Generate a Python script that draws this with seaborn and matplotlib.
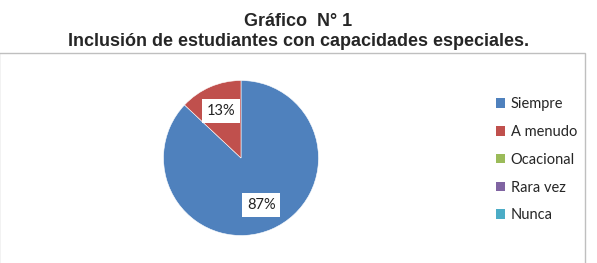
import matplotlib
matplotlib.use("Agg")
import matplotlib.pyplot as plt
import seaborn as sns
from matplotlib.patches import Rectangle, Patch

categories = ["Siempre", "A menudo", "Ocacional", "Rara vez", "Nunca"]
values = [87, 13, 0, 0, 0]
colors = ["#4F81BD", "#C0504D", "#9BBB59", "#8064A2", "#4BACC6"]
title_lines = ["Gráfico  N° 1", "Inclusión de estudiantes con capacidades especiales."]

sns.set_style("white")
palette = sns.color_palette(colors)

W, H = 597, 263
fig = plt.figure(figsize=(W / 100, H / 100), dpi=100)
fig.patch.set_facecolor("white")

# chart frame
fig.add_artist(Rectangle((-1 / W, -0.2), 586 / W, 1 - 52.5 / H + 0.2,
                         transform=fig.transFigure, fill=False,
                         edgecolor="#BFBFBF", linewidth=1.0))

fig.text(0.5, 1 - 21 / H, title_lines[0], ha="center", va="center",
         fontsize=13, fontweight="bold", family="Liberation Sans")
fig.text(0.5, 1 - 41 / H, title_lines[1], ha="center", va="center",
         fontsize=13, fontweight="bold", family="Liberation Sans")

cx, cy, r = 241, 158, 77.5
ax = fig.add_axes([(cx - r) / W, (H - cy - r) / H, 2 * r / W, 2 * r / H])
nz = [(v, c) for v, c in zip(values, palette) if v > 0]
wedges, texts, autotexts = ax.pie(
    [v for v, _ in nz], colors=[c for _, c in nz], startangle=90,
    counterclock=False, autopct="%1.0f%%", pctdistance=0.66,
    wedgeprops=dict(linewidth=0.4, edgecolor="white"),
    textprops=dict(fontsize=10.5, family="Lato", color="#222222"))
for t in autotexts:
    t.set_bbox(dict(facecolor="white", edgecolor="none", pad=3.5))
ax.set_xlim(-1, 1)
ax.set_ylim(-1, 1)
ax.set_aspect("equal")
ax.axis("off")

handles = [Patch(facecolor=c, edgecolor="none") for c in palette]
fig.legend(handles, categories, loc="upper left",
           bbox_to_anchor=(496 / W, 1 - 97 / H), frameon=False,
           prop=dict(family="Lato", size=10.5), handlelength=0.65,
           handleheight=0.65, handletextpad=0.35, labelspacing=0.95,
           borderpad=0, borderaxespad=0)

fig.savefig("out.png", dpi=100)
